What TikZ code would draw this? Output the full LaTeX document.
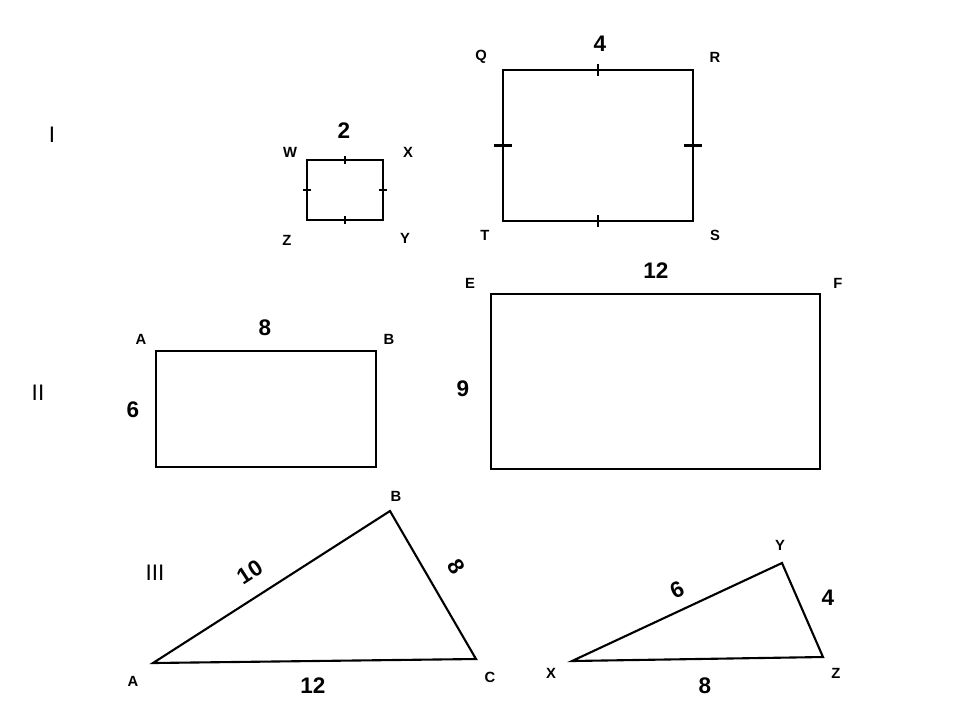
\documentclass[tikz,border=0pt]{standalone}
\usepackage{fontspec}
\setmainfont{Liberation Sans}
\usetikzlibrary{calc}
\tikzset{
    shape line/.style={draw,line width=0.6pt},
    vertex label/.style={font=\fontsize{4.2}{5}\selectfont\bfseries,inner sep=0pt},
    side label/.style={font=\fontsize{6.4}{7}\selectfont\bfseries,inner sep=0pt},
    part label/.style={font=\fontsize{6.4}{7}\selectfont,inner sep=0pt},
    tick/.style={draw,line width=0.6pt},
}
\newcommand{\px}{0.01}
\begin{document}
\begin{tikzpicture}[x=\px cm,y=-\px cm]
\useasboundingbox (0,0) rectangle (960,720);
% part I
\node [part label] (one) at (52,135) {I};
\coordinate (W) at (307,160); \coordinate (X) at (383,160);
\coordinate (Y) at (383,220); \coordinate (Z) at (307,220);
\draw [shape line] (W) -- (X) -- (Y) -- (Z) -- cycle;
\foreach \p/\q in {W/X,Y/Z} \draw [tick] ($(\p)!0.5!(\q)+(0,-4)$) -- ++(0,8);
\foreach \p/\q in {X/Y,Z/W} \draw [tick] ($(\p)!0.5!(\q)+(-4,0)$) -- ++(8,0);
\node [vertex label] (lW) at (290,152) {W};
\node [vertex label] (lX) at (408,152) {X};
\node [vertex label] (lY) at (405,238) {Y};
\node [vertex label] (lZ) at (287,240) {Z};
\node [side label] (sWX) at (344,131) {2};
\coordinate (Q) at (503,70); \coordinate (R) at (693,70);
\coordinate (S) at (693,221); \coordinate (T) at (503,221);
\draw [shape line] (Q) -- (R) -- (S) -- (T) -- cycle;
\foreach \p/\q in {Q/R,S/T} \draw [tick] ($(\p)!0.5!(\q)+(0,-6)$) -- ++(0,12);
\foreach \p/\q in {R/S,T/Q} \draw [tick] ($(\p)!0.5!(\q)+(-9,0)$) -- ++(18,0);
\node [vertex label] (lQ) at (481,57) {Q};
\node [vertex label] (lR) at (715,57) {R};
\node [vertex label] (lS) at (715,235) {S};
\node [vertex label] (lT) at (485,235) {T};
\node [side label] (sQR) at (600,44) {4};
% part II
\node [part label] (two) at (38,393) {II};
\draw [shape line] (156,351) rectangle (376,467);
\node [vertex label] (lA) at (141,339) {A};
\node [vertex label] (lB) at (389,339) {B};
\node [side label] (sAB) at (265,328) {8};
\node [side label] (sAD) at (133,410) {6};
\draw [shape line] (491,294) rectangle (820,469);
\node [vertex label] (lE) at (470,283) {E};
\node [vertex label] (lF) at (838,283) {F};
\node [side label] (sEF) at (656,271) {12};
\node [side label] (sEH) at (463,389) {9};
% part III
\node [part label] (three) at (155,573) {III};
\coordinate (tA) at (153,663); \coordinate (tB) at (390,511); \coordinate (tC) at (476,659);
\draw [shape line] (tA) -- (tB) -- (tC) -- cycle;
\node [vertex label] (ltA) at (133,681) {A};
\node [vertex label] (ltB) at (396,496) {B};
\node [vertex label] (ltC) at (490,677) {C};
\node [side label,rotate=33] (sAtB) at (250,572) {10};
\node [side label,rotate=-58] (sBC) at (456,567) {8};
\node [side label] (sAC) at (313,686) {12};
\coordinate (tX) at (572,661); \coordinate (tY) at (782,563); \coordinate (tZ) at (823,657);
\draw [shape line] (tX) -- (tY) -- (tZ) -- cycle;
\node [vertex label] (ltX) at (551,673) {X};
\node [vertex label] (ltY) at (780,545) {Y};
\node [vertex label] (ltZ) at (836,673) {Z};
\node [side label,rotate=25] (sXY) at (677,590) {6};
\node [side label] (sYZ) at (828,598) {4};
\node [side label] (sXZ) at (705,686) {8};
\end{tikzpicture}
\end{document}
